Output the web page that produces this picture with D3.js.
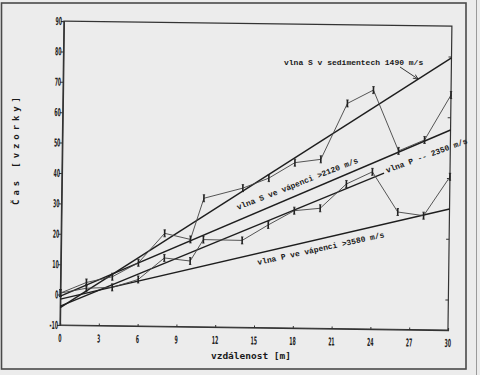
<!DOCTYPE html>
<html><head><meta charset="utf-8">
<script src="https://cdn.jsdelivr.net/npm/d3@7"></script>
<style>html,body{margin:0;padding:0;background:#ececec;}svg{display:block;}</style>
</head><body>
<script>
// ---- data ----
const xTickValues = [0,3,6,9,12,15,18,21,24,27,30];
const yTickValues = [-10,0,10,20,30,40,50,60,70,80,90];
const distances = [0,2,4,6,8,10,11,14,16,18,20,22,24,26,28,30];
const sPicks = [0.5,4.1,6.1,10.8,20.6,18.7,32.3,35.8,39.2,44.4,45.6,64.1,68.6,48.7,52.4,67.3];
const pPicks = [0.5,2.2,2.6,5.3,12.5,11.6,18.7,18.6,23.8,28.6,29.5,37.6,41.7,28.6,27.5,40.4];
const fitLabels = ["vlna S v sedimentech 1490 m/s","vlna S ve vápenci >2120 m/s","vlna P -- 2350 m/s","vlna P ve vápenci >3580 m/s"];
const fitX0 = [0,0,0,0];
const fitY0 = [-4.3,-0.5,-3.8,-1.5];
const fitX1 = [30,30,24.9,30];
const fitY1 = [79.5,55.8,41.3,29.8];
const xTitle = "vzdálenost [m]";
const yTitle = "Čas [vzorky]";

const W=480,H=375;
const svg=d3.select("body").append("svg").attr("width",W).attr("height",H);
svg.append("rect").attr("width",W).attr("height",H).attr("fill","#ececec");
// outer scan frame
svg.append("rect").attr("x",1.5).attr("y",3).attr("width",464.5).attr("height",366)
  .attr("fill","none").attr("stroke","#4a4a4a").attr("stroke-width",1.6);
svg.append("line").attr("x1",476.5).attr("x2",476.5).attr("y1",0).attr("y2",H).attr("stroke","#9a9a9a").attr("stroke-width",1);

const x=d3.scaleLinear().domain([0,30]).range([60,448]);
const y=d3.scaleLinear().domain([-10,90]).range([325,21]);

const g=svg.append("g").attr("transform","rotate(0.74,60,325)");

// plot frame
g.append("rect").attr("x",x(0)).attr("y",y(90)).attr("width",x(30)-x(0)).attr("height",y(-10)-y(90))
  .attr("fill","none").attr("stroke","#333").attr("stroke-width",1.2);

// axes (ticks only; labels drawn condensed below)
const ax=g.append("g").attr("transform",`translate(0,${y(-10)})`)
  .call(d3.axisBottom(x).tickValues(xTickValues).tickSize(-2).tickFormat(""));
const ay=g.append("g").attr("transform",`translate(${x(0)},0)`)
  .call(d3.axisLeft(y).tickValues(yTickValues).tickSize(3).tickFormat(""));
[ax,ay].forEach(a=>{a.select(".domain").attr("stroke","#333").attr("stroke-width",1.2);a.selectAll(".tick line").attr("stroke","#333");});
// right border ticks
g.append("g").attr("transform",`translate(${x(30)},0)`)
  .call(d3.axisRight(y).tickValues([0,20,40,60,80]).tickSize(-3).tickFormat(""))
  .call(s=>{s.select(".domain").remove();s.selectAll(".tick line").attr("stroke","#333");});

// tick labels, condensed
g.selectAll("text.xl").data(xTickValues).join("text").attr("class","xl")
  .attr("transform",d=>`translate(${x(d)},${y(-10)+17}) scale(0.42,1)`)
  .attr("text-anchor","middle").attr("font-family","DejaVu Sans").attr("font-weight","bold")
  .attr("font-size",11).attr("fill","#222").text(d=>d);
g.selectAll("text.yl").data(yTickValues).join("text").attr("class","yl")
  .attr("transform",d=>`translate(${x(0)-2},${y(d)+4}) scale(0.42,1)`)
  .attr("text-anchor","end").attr("font-family","DejaVu Sans").attr("font-weight","bold")
  .attr("font-size",11).attr("fill","#222").text(d=>d);

// fitted lines
g.selectAll("line.fit").data(fitLabels).join("line").attr("class","fit")
  .attr("x1",(d,i)=>x(fitX0[i])).attr("y1",(d,i)=>y(fitY0[i]))
  .attr("x2",(d,i)=>x(fitX1[i])).attr("y2",(d,i)=>y(fitY1[i]))
  .attr("stroke","#1e1e1e").attr("stroke-width",1.4);

// pick series
const line=d3.line().x(d=>x(d[0])).y(d=>y(d[1]));
[sPicks,pPicks].forEach(vals=>{
  const pts=distances.map((d,i)=>[d,vals[i]]);
  g.append("path").attr("d",line(pts)).attr("fill","none").attr("stroke","#444").attr("stroke-width",0.9);
  const m=g.append("g").selectAll("g").data(pts).join("g").attr("transform",d=>`translate(${x(d[0])},${y(d[1])})`);
  m.append("line").attr("y1",-3.5).attr("y2",3.5).attr("stroke","#222").attr("stroke-width",1.6);
  m.append("line").attr("x1",-1.2).attr("x2",1.2).attr("y1",-3.5).attr("y2",-3.5).attr("stroke","#222").attr("stroke-width",0.8);
  m.append("line").attr("x1",-1.2).attr("x2",1.2).attr("y1",3.5).attr("y2",3.5).attr("stroke","#222").attr("stroke-width",0.8);
});

// annotations (screen positions)
const mono="'Liberation Mono','DejaVu Sans Mono',monospace";
const annPos=[[284,64.5,0],[238,210,-21.5],[387,173,-20.3],[258,265,-12.4]];
svg.selectAll("text.ann").data(fitLabels).join("text").attr("class","ann")
  .attr("transform",(d,i)=>`translate(${annPos[i][0]},${annPos[i][1]}) rotate(${annPos[i][2]})`)
  .attr("font-family",mono).attr("font-weight","bold").attr("font-size",8).attr("fill","#1a1a1a").text(d=>d);
// arrow for first label
svg.append("defs").append("marker").attr("id","ah").attr("viewBox","0 0 10 10").attr("refX",9).attr("refY",5)
  .attr("markerWidth",6).attr("markerHeight",6).attr("orient","auto")
  .append("path").attr("d","M0,1 L10,5 L0,9").attr("fill","none").attr("stroke","#222").attr("stroke-width",1.5);
svg.append("line").attr("x1",400).attr("y1",67).attr("x2",418).attr("y2",79)
  .attr("stroke","#222").attr("stroke-width",0.9).attr("marker-end","url(#ah)");

// titles
svg.append("text").attr("x",251).attr("y",359).attr("text-anchor","middle")
  .attr("font-family","'DejaVu Sans Mono',monospace").attr("font-weight","bold").attr("font-size",9.5).attr("fill","#1a1a1a").text(xTitle);
svg.append("text").attr("transform","translate(19,149) rotate(-90)").attr("text-anchor","middle")
  .attr("font-family","'DejaVu Sans Mono',monospace").attr("font-weight","bold").attr("font-size",9)
  .attr("letter-spacing","3.9px").attr("fill","#1a1a1a").text(yTitle);
</script>
</body></html>
